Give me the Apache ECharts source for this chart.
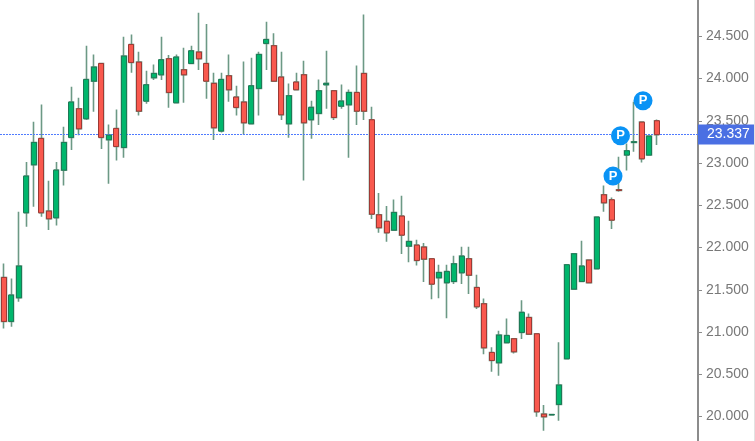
<!DOCTYPE html>
<html>
<head>
<meta charset="utf-8">
<style>html,body{margin:0;padding:0;background:#fff}#c{width:755px;height:441px;filter:blur(0.4px)}</style>
<script src="https://cdn.jsdelivr.net/npm/echarts@6/dist/echarts.min.js"></script>
</head>
<body>
<div id="c"></div>
<script>
var opens = [21647,21126,21406,22412,22980,23292,22432,22353,22917,23304,
23643,23525,23970,24179,23276,23410,23185,24404,24195,23734,
24010,24045,24235,23714,24104,24179,24314,24179,23943,23379,
24033,23781,23722,23465,23884,24416,24389,24018,23465,23959,
24045,23513,23588,23927,23856,23674,23690,23836,24061,23513,
22388,22310,22207,22373,22018,22029,22006,21868,21643,21584,
21599,21702,21868,21528,21335,20759,20637,20874,20921,20996,
21173,20980,20029,20021,20144,20684,21509,21599,21852,21749,
22625,22566,22684,23095,23245,23485,23095,23501];
var closes = [21126,21438,21781,22846,23244,22412,22341,22917,23244,23722,
23406,23990,24136,23304,23331,23197,24266,24191,23615,23927,
24061,24223,23836,24254,24045,24329,24235,23970,23418,23990,
23868,23659,23477,23915,24286,24463,23970,23572,23797,23868,
23477,23659,23856,23943,23540,23734,23836,23615,23615,22396,
22235,22175,22416,22148,22073,21848,21864,21568,21706,21718,
21808,21899,21674,21300,20814,20664,20964,20960,20767,21233,
20976,20057,19998,20025,20373,21797,21927,21781,21584,22361,
22530,22325,22676,23146,23252,23051,23319,23337];
var lows = [21043,21063,21359,22246,22483,22365,22207,22262,22736,23154,
23331,23509,23607,23166,22755,23031,23063,24069,23564,23702,
23982,23982,23655,23706,23714,24179,24101,23761,23272,23363,
23726,23564,23339,23465,23564,24101,23970,23509,23300,23868,
22795,23288,23450,23643,23509,23643,23063,23450,23509,22337,
22175,22069,22207,21923,21828,21789,21592,21390,21402,21165,
21568,21568,21450,21272,20739,20530,20483,20874,20747,20917,
20976,19998,19832,20017,19950,20684,21509,21599,21584,21749,
22424,22219,22661,22913,23134,23008,23095,23213];
var highs = [21812,21635,22424,23012,23489,23694,22791,23012,23430,23903,
23773,24389,24286,24179,23458,23635,24495,24523,24318,24093,
24168,24495,24278,24286,24365,24389,24779,24645,24069,24069,
24286,23915,24203,24247,24318,24673,24538,24318,23943,24069,
24211,23738,23990,24329,23856,23931,23872,24156,24759,23667,
22645,22491,22570,22613,22317,22093,22053,21868,21797,21797,
21903,22010,22010,21678,21398,20822,21016,21162,20921,21378,
21221,20980,20136,20030,20881,21797,21927,22081,21852,22361,
22736,22594,23075,23233,23726,23485,23319,23517];
var lastPrice = 23337;
var pointMarkers = [[81,22846],[82,23323],[85,23738]];
var blankSlots = 5;

var categories = [];
for (var i = 0; i < opens.length + blankSlots; i++) categories.push(String(i));

var wickData = opens.map(function(o,i){ return [o, closes[i], lows[i], highs[i]]; });
var bodyData = opens.map(function(o,i){ var c = closes[i]; return [o, c, Math.min(o,c), Math.max(o,c)]; });
var fmt = function(v){ return (v/1000).toFixed(3); };

var chart = echarts.init(document.getElementById('c'), null, {renderer:'canvas'});
chart.setOption({
  animation:false,
  backgroundColor:'#ffffff',
  grid:{left:0, width:698, top:-48.15, height:507, outerBoundsMode:'none', containLabel:false},
  xAxis:{type:'category', data:categories, boundaryGap:true, show:false},
  yAxis:{type:'value', position:'right', min:19500, max:25500, interval:500, scale:true,
    splitLine:{show:false},
    axisLine:{show:true, onZero:false, lineStyle:{color:'#8c8c8c', width:2}},
    axisTick:{show:true, length:4, lineStyle:{color:'#8c8c8c', width:1}},
    axisLabel:{formatter:fmt, color:'#787878', fontFamily:'Liberation Sans', fontSize:14, margin:8, padding:[2,0,0,0], showMinLabel:true, showMaxLabel:true, hideOverlap:false}
  },
  graphic:[{type:'rect', shape:{x:754, y:0, width:1, height:441}, style:{fill:'#e2e2e2'}, silent:true}],
  series:[
    {type:'candlestick', name:'wick', data:wickData, barWidth:5, z:2,
      itemStyle:{color:'#6c9985', color0:'#6c9985', borderColor:'#6c9985', borderColor0:'#6c9985', borderWidth:1.6},
      markLine:{silent:true, symbol:'none', animation:false, z:3,
        data:[{yAxis:lastPrice}],
        lineStyle:{color:'#4f7bff', type:[2,1], width:1, opacity:1},
        label:{position:'end', distance:0, formatter:function(){return fmt(lastPrice);}, color:'#ffffff',
          backgroundColor:'#4a6fe3', fontFamily:'Liberation Sans', fontSize:14,
          padding:[3,6,3,9], width:41, height:14, lineHeight:14, align:'left'}
      }
    },
    {type:'candlestick', name:'body', data:bodyData, barWidth:5.5, z:3,
      itemStyle:{color:'#00b66c', color0:'#f9594e', borderColor:'#1d7a56', borderColor0:'#9c3a35', borderWidth:1}
    },
    {type:'scatter', name:'P', data:pointMarkers, symbol:'circle', symbolSize:19, symbolOffset:[1.3,0], z:9,
      itemStyle:{color:'#0a93f5', opacity:1},
      label:{show:true, position:'inside', formatter:'P', color:'#ffffff', fontFamily:'Liberation Sans', fontSize:13, fontWeight:'bold'}
    }
  ]
});
</script>
</body>
</html>
